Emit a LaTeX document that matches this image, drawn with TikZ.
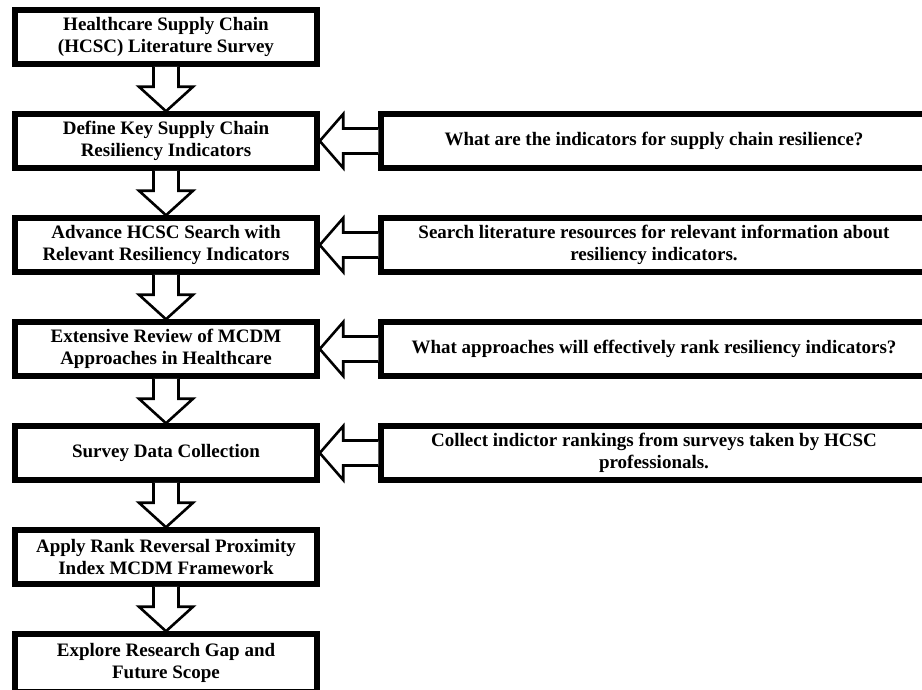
\documentclass[tikz,border=0pt]{standalone}
\usepackage{fontspec}
\setmainfont{Liberation Serif}
\usetikzlibrary{calc}
\tikzset{
  stage/.style={draw, line width=5.5pt, rectangle, minimum width=302pt,
    minimum height=54pt, inner sep=0pt, align=center,
    font=\fontsize{19}{22}\selectfont\bfseries},
  question/.style={stage, minimum width=546pt},
  blockarrow/.style={draw, line width=2.6pt, line join=miter, fill=white}
}
% hollow block arrow pointing down from the bottom of #1 to the top of #2
\newcommand\flowdown[2]{%
  \path[blockarrow] ($(#1.south)+(-12.5,0)$) -- ($(#1.south)+(-12.5,20)$)
    -- ($(#1.south)+(-27,20)$) -- (#2.north) -- ($(#1.south)+(27,20)$)
    -- ($(#1.south)+(12.5,20)$) -- ($(#1.south)+(12.5,0)$);}
% hollow block arrow pointing left from the side of #1 to the side of #2
\newcommand\flowleft[2]{%
  \path[blockarrow] ($(#1.west)+(0,-12.5)$) -- ($(#1.west)+(-35,-12.5)$)
    -- ($(#1.west)+(-35,-27)$) -- (#2.east) -- ($(#1.west)+(-35,27)$)
    -- ($(#1.west)+(-35,12.5)$) -- ($(#1.west)+(0,12.5)$);}
\begin{document}
\begin{tikzpicture}[x=1pt,y=-1pt]
\useasboundingbox (0,0) rectangle (922,689);
\clip (0,0) rectangle (922,689);

% main research steps
\node[stage] (s1) at (166,37)  {Healthcare Supply Chain\\(HCSC) Literature Survey};
\node[stage] (s2) at (166,141) {Define Key Supply Chain\\Resiliency Indicators};
\node[stage] (s3) at (166,245) {Advance HCSC Search with\\Relevant Resiliency Indicators};
\node[stage] (s4) at (166,349) {Extensive Review of MCDM\\Approaches in Healthcare};
\node[stage] (s5) at (166,453) {Survey Data Collection};
\node[stage] (s6) at (166,557) {Apply Rank Reversal Proximity\\Index MCDM Framework};
\node[stage, minimum height=58pt] (s7) at (166,663) {Explore Research Gap and\\Future Scope};

% guiding questions
\node[question] (q2) at (654,141) {What are the indicators for supply chain resilience?};
\node[question] (q3) at (654,245) {Search literature resources for relevant information about\\resiliency indicators.};
\node[question] (q4) at (654,349) {What approaches will effectively rank resiliency indicators?};
\node[question] (q5) at (654,453) {Collect indictor rankings from surveys taken by HCSC\\professionals.};

% flow between steps
\flowdown{s1}{s2}
\flowdown{s2}{s3}
\flowdown{s3}{s4}
\flowdown{s4}{s5}
\flowdown{s5}{s6}
\flowdown{s6}{s7}

% questions feeding the steps
\flowleft{q2}{s2}
\flowleft{q3}{s3}
\flowleft{q4}{s4}
\flowleft{q5}{s5}
\end{tikzpicture}
\end{document}
